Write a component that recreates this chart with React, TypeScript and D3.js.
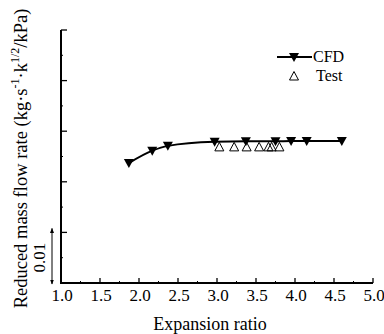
import React, { useRef, useEffect } from 'react';
import * as d3 from 'd3';

// CFD curve
const cfdX = [1.87, 2.17, 2.37, 2.97, 3.37, 3.75, 3.95, 4.15, 4.6];
const cfdY = [0.0237, 0.02615, 0.0271, 0.0279, 0.0280, 0.0280, 0.02806, 0.02806, 0.02806];
// test points
const testX = [3.03, 3.22, 3.38, 3.54, 3.66, 3.7, 3.8];
const testY = [0.0269, 0.0269, 0.0269, 0.0269, 0.0269, 0.0269, 0.0269];
const xTicks = [1.0, 1.5, 2.0, 2.5, 3.0, 3.5, 4.0, 4.5, 5.0];

const FONT = "'Liberation Serif', 'Times New Roman', Times, serif";

export default function App() {
  const ref = useRef<SVGSVGElement>(null);

  useEffect(() => {
    const svg = d3.select(ref.current);
    svg.selectAll('*').remove();

    const width = 384, height = 334;

    const x = d3.scaleLinear().domain([1, 5]).range([61, 373]);
    const y = d3.scaleLinear().domain([0, 0.05]).range([283, 30]);

    const g = svg.attr('viewBox', `0 0 ${width} ${height}`).append('g');

    // axes lines
    g.append('line')
      .attr('x1', x(1)).attr('x2', x(5))
      .attr('y1', y(0)).attr('y2', y(0))
      .attr('stroke', '#000').attr('stroke-width', 2);
    g.append('line')
      .attr('x1', x(1)).attr('x2', x(1))
      .attr('y1', y(0) + 1).attr('y2', y(0.05))
      .attr('stroke', '#000').attr('stroke-width', 2);

    // x ticks
    g.selectAll('.xmaj')
      .data(xTicks.slice(1))
      .enter().append('line')
      .attr('x1', d => x(d)).attr('x2', d => x(d))
      .attr('y1', y(0)).attr('y2', y(0) - 5)
      .attr('stroke', '#000').attr('stroke-width', 1.3);
    g.selectAll('.xmin')
      .data(d3.range(1.25, 5, 0.5))
      .enter().append('line')
      .attr('x1', d => x(d)).attr('x2', d => x(d))
      .attr('y1', y(0)).attr('y2', y(0) - 2)
      .attr('stroke', '#000').attr('stroke-width', 1);
    g.selectAll('.xlab')
      .data(xTicks)
      .enter().append('text')
      .attr('x', d => x(d) + 1).attr('y', y(0) + 18)
      .attr('text-anchor', 'middle')
      .attr('font-family', FONT)
      .attr('font-size', 17)
      .text(d => d.toFixed(1));

    // y ticks
    g.selectAll('.ymaj')
      .data(d3.range(0.01, 0.051, 0.01))
      .enter().append('line')
      .attr('x1', x(1)).attr('x2', x(1) + 6)
      .attr('y1', d => y(d)).attr('y2', d => y(d))
      .attr('stroke', '#000').attr('stroke-width', 1.3);
    g.selectAll('.ymin')
      .data(d3.range(0.005, 0.05, 0.01))
      .enter().append('line')
      .attr('x1', x(1)).attr('x2', x(1) + 2)
      .attr('y1', d => y(d)).attr('y2', d => y(d))
      .attr('stroke', '#000').attr('stroke-width', 1);

    // 0.01 scale arrow
    svg.append('defs').append('marker')
      .attr('id', 'ah').attr('viewBox', '0 0 10 10')
      .attr('refX', 9).attr('refY', 5)
      .attr('markerWidth', 5).attr('markerHeight', 6)
      .attr('orient', 'auto-start-reverse')
      .append('path').attr('d', 'M0,1 L10,5 L0,9 Z').attr('fill', '#000');
    g.append('line')
      .attr('x1', 52).attr('x2', 52)
      .attr('y1', y(0.01) - 4).attr('y2', y(0) + 1)
      .attr('stroke', '#000').attr('stroke-width', 1)
      .attr('marker-start', 'url(#ah)').attr('marker-end', 'url(#ah)');
    g.append('text')
      .attr('transform', `translate(45,${y(0.005)}) rotate(-90)`)
      .attr('text-anchor', 'middle')
      .attr('font-family', FONT)
      .attr('font-size', 17)
      .text('0.01');

    // CFD line
    const pts = cfdX.map((d, i) => [d, cfdY[i]] as [number, number]);
    g.append('path')
      .datum(pts)
      .attr('fill', 'none').attr('stroke', '#000').attr('stroke-width', 2)
      .attr('d', d3.line<[number, number]>()
        .x(d => x(d[0])).y(d => y(d[1]))
        .curve(d3.curveMonotoneX));

    const down = 'M-5,-4 L5,-4 L0,5 Z';
    const up = 'M-4.5,4 L4.5,4 L0,-4.5 Z';

    g.selectAll('.cfd')
      .data(pts)
      .enter().append('path')
      .attr('transform', d => `translate(${x(d[0])},${y(d[1])})`)
      .attr('d', down).attr('fill', '#000');

    g.selectAll('.test')
      .data(testX.map((d, i) => [d, testY[i]]))
      .enter().append('path')
      .attr('transform', d => `translate(${x(d[0])},${y(d[1])})`)
      .attr('d', up).attr('fill', 'none').attr('stroke', '#000').attr('stroke-width', 1);

    // legend
    g.append('line')
      .attr('x1', 277).attr('x2', 312).attr('y1', 57).attr('y2', 57)
      .attr('stroke', '#000').attr('stroke-width', 2);
    g.append('path').attr('transform', 'translate(294,57)').attr('d', down).attr('fill', '#000');
    g.append('text').attr('x', 313).attr('y', 62)
      .attr('font-family', FONT).attr('font-size', 16).text('CFD');
    g.append('path').attr('transform', 'translate(294,76)').attr('d', up)
      .attr('fill', 'none').attr('stroke', '#000').attr('stroke-width', 1);
    g.append('text').attr('x', 316).attr('y', 81)
      .attr('font-family', FONT).attr('font-size', 16).text('Test');

    // axis titles
    g.append('text')
      .attr('x', 210).attr('y', 330)
      .attr('text-anchor', 'middle')
      .attr('font-family', FONT)
      .attr('font-size', 18)
      .text('Expansion ratio');

    const yl = g.append('text')
      .attr('transform', 'translate(27,158.5) rotate(-90)')
      .attr('text-anchor', 'middle')
      .attr('font-family', FONT)
      .attr('font-size', 18.5);
    yl.append('tspan').text('Reduced mass flow rate (kg\u00B7s');
    yl.append('tspan').attr('dy', -8).attr('font-size', 12).text('-1');
    yl.append('tspan').attr('dy', 8).text('\u00B7k');
    yl.append('tspan').attr('dy', -8).attr('font-size', 12).text('1/2');
    yl.append('tspan').attr('dy', 8).text('/kPa)');
  }, []);

  return (
    <svg ref={ref} width={384} height={334}
      style={{ position: 'absolute', left: 0, top: 0, display: 'block', background: '#fff' }} />
  );
}
